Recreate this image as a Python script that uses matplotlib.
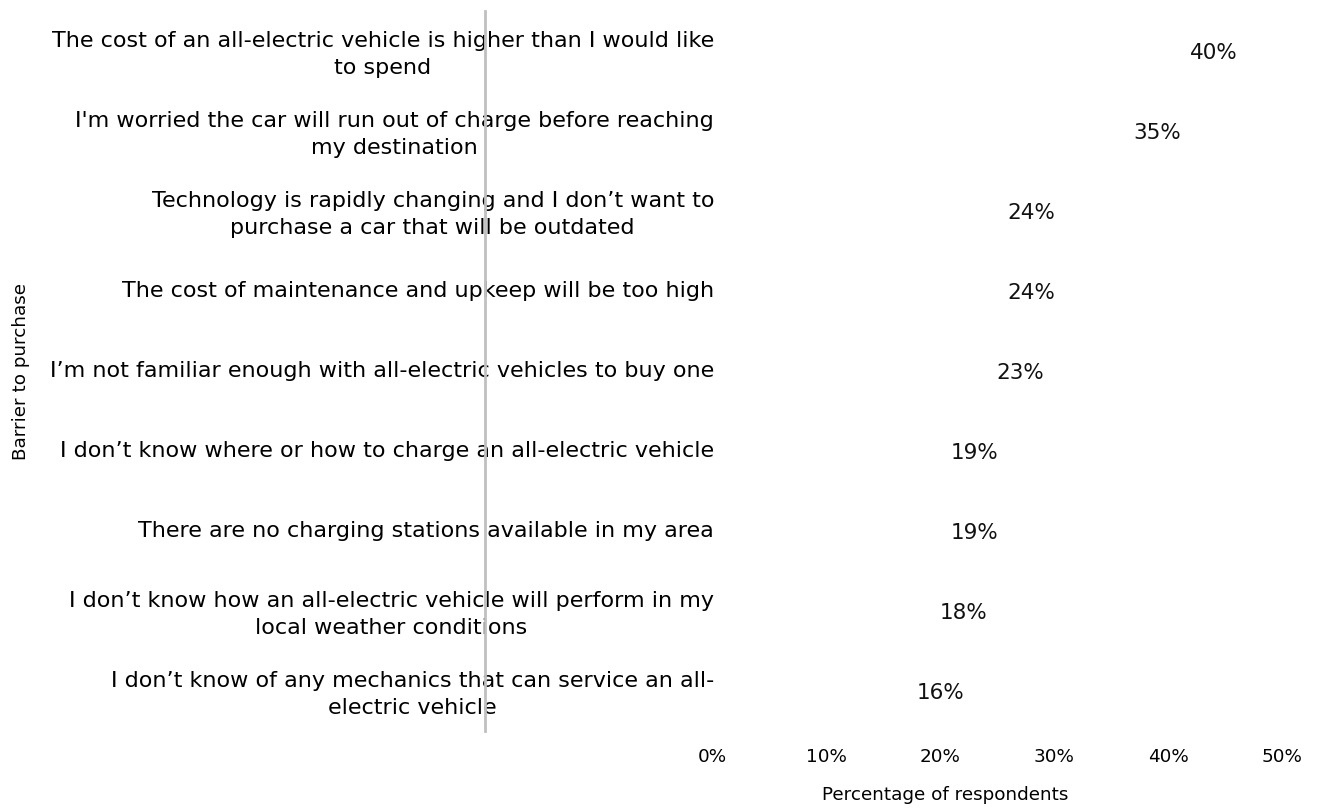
import matplotlib
matplotlib.use("Agg")
import matplotlib.pyplot as plt
from matplotlib.transforms import ScaledTranslation

categories = [
    "The cost of an all-electric vehicle is higher than I would like\nto spend",
    "I'm worried the car will run out of charge before reaching\nmy destination",
    "Technology is rapidly changing and I don\u2019t want to\npurchase a car that will be outdated",
    "The cost of maintenance and upkeep will be too high",
    "I\u2019m not familiar enough with all\u2011electric vehicles to buy one",
    "I don\u2019t know where or how to charge an all\u2011electric vehicle",
    "There are no charging stations available in my area",
    "I don\u2019t know how an all\u2011electric vehicle will perform in my\nlocal weather conditions",
    "I don\u2019t know of any mechanics that can service an all\u2011\nelectric vehicle",
]
values = [40, 35, 24, 24, 23, 19, 19, 18, 16]
xticks = [0, 10, 20, 30, 40, 50]
xtick_labels = ["0%", "10%", "20%", "30%", "40%", "50%"]

plt.rcParams['font.family'] = ['DejaVu Sans']
fig = plt.figure(figsize=(13.17, 8.09), dpi=100)
W, H = 1317, 809
ax = fig.add_axes([485 / W, 1 - 731 / H, (1282 - 485) / W, (731 - 11) / H])

pos = list(range(len(categories)))
ax.barh(pos, values, height=0.6, color="white", edgecolor="none")
for p, v in zip(pos, values):
    ax.text(v + 4, p + 0.02, f"{v}%", ha="center", va="center", fontsize=15.5, color="#111111")

ax.set_xlim(-20, 50)
ax.set_ylim(len(categories) - 0.5, -0.5)
ax.set_xticks(xticks)
ax.set_xticklabels(xtick_labels, fontsize=13.2)
ax.set_yticks(pos)
ax.set_yticklabels(categories, fontsize=16, ha="right", multialignment="center",
                   linespacing=1.45)
ax.tick_params(axis="x", length=0, pad=12)
ax.tick_params(axis="y", length=0, pad=(485 - 714) * 72 / 100)
for lbl in ax.get_yticklabels():
    lbl.set_transform(lbl.get_transform() + ScaledTranslation(0, 0.02, fig.dpi_scale_trans))

for s in ["top", "right", "bottom"]:
    ax.spines[s].set_visible(False)
ax.spines["left"].set_color("#c0c0c0")
ax.spines["left"].set_linewidth(2)

ax.set_xlabel("Percentage of respondents", fontsize=13.2)
ax.xaxis.set_label_coords((945 - 485) / (1282 - 485), -(786 - 731) / (731 - 11))
ax.xaxis.label.set_verticalalignment("top")
ax.set_ylabel("Barrier to purchase", fontsize=13.2)
ax.yaxis.set_label_coords(-(485 - 30) / (1282 - 485), 0.5)

fig.savefig("out.png", dpi=100)
